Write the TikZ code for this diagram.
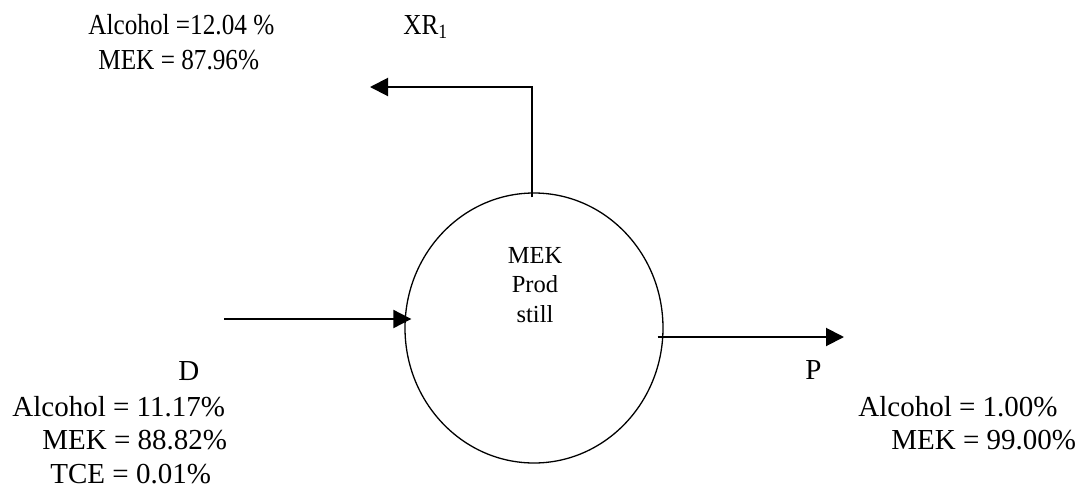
\documentclass[tikz,border=0pt]{standalone}
\usepackage{fontspec}
\setmainfont{Liberation Serif}
\usetikzlibrary{arrows.meta,shapes.geometric}
\begin{document}
\begin{tikzpicture}[x=0.5pt,y=-0.5pt,
  lbl/.style={inner sep=0pt,anchor=base west,font=\fontsize{14.5}{17}\selectfont},
  inlbl/.style={inner sep=0pt,anchor=base,font=\fontsize{12.25}{14.5}\selectfont},
  flow/.style={line width=1pt,-{Triangle[length=9pt,width=9pt]}},
  unit/.style={draw,line width=0.65pt,ellipse,minimum width=129pt,minimum height=135pt,inner sep=0pt}]
\useasboundingbox (0,0) rectangle (1084,489);

% the still
\node[unit] (still) at (534,328) {};
\node[inlbl] (t1) at (535,263) {MEK};
\node[inlbl] (t2) at (535,292) {Prod};
\node[inlbl] (t3) at (535,322) {still};

% stream end points
\coordinate (feed) at (224,319);
\coordinate (prod) at (844,337);
\coordinate (bend) at (532,87);
\coordinate (recyc) at (370,87);

% streams
\draw[flow,shorten >=-3.5pt] (feed) -- (feed -| still.west);
\draw[flow,shorten <=-3pt] (prod -| still.east) -- (prod);
\draw[flow,shorten <=-2.5pt] (bend |- still.north) -- (bend) -- (recyc);

% overhead stream XR1
\node[lbl] (xr) at (403,34) {\scalebox{0.87}[1]{XR\textsubscript{1}}};
\node[lbl] (xra) at (88,34) {\scalebox{0.87}[1]{Alcohol =12.04 \%}};
\node[lbl] (xrm) at (98,69) {\scalebox{0.87}[1]{MEK = 87.96\%}};

% feed D
\node[lbl] (d) at (178,380) {D};
\node[lbl] (da) at (12,416) {Alcohol = 11.17\%};
\node[lbl] (dm) at (42,449) {MEK = 88.82\%};
\node[lbl] (dt) at (50,483) {TCE = 0.01\%};

% product P
\node[lbl] (p) at (805,379) {P};
\node[lbl] (pa) at (858,416) {Alcohol = 1.00\%};
\node[lbl] (pm) at (891,449) {MEK = 99.00\%};
\end{tikzpicture}
\end{document}
